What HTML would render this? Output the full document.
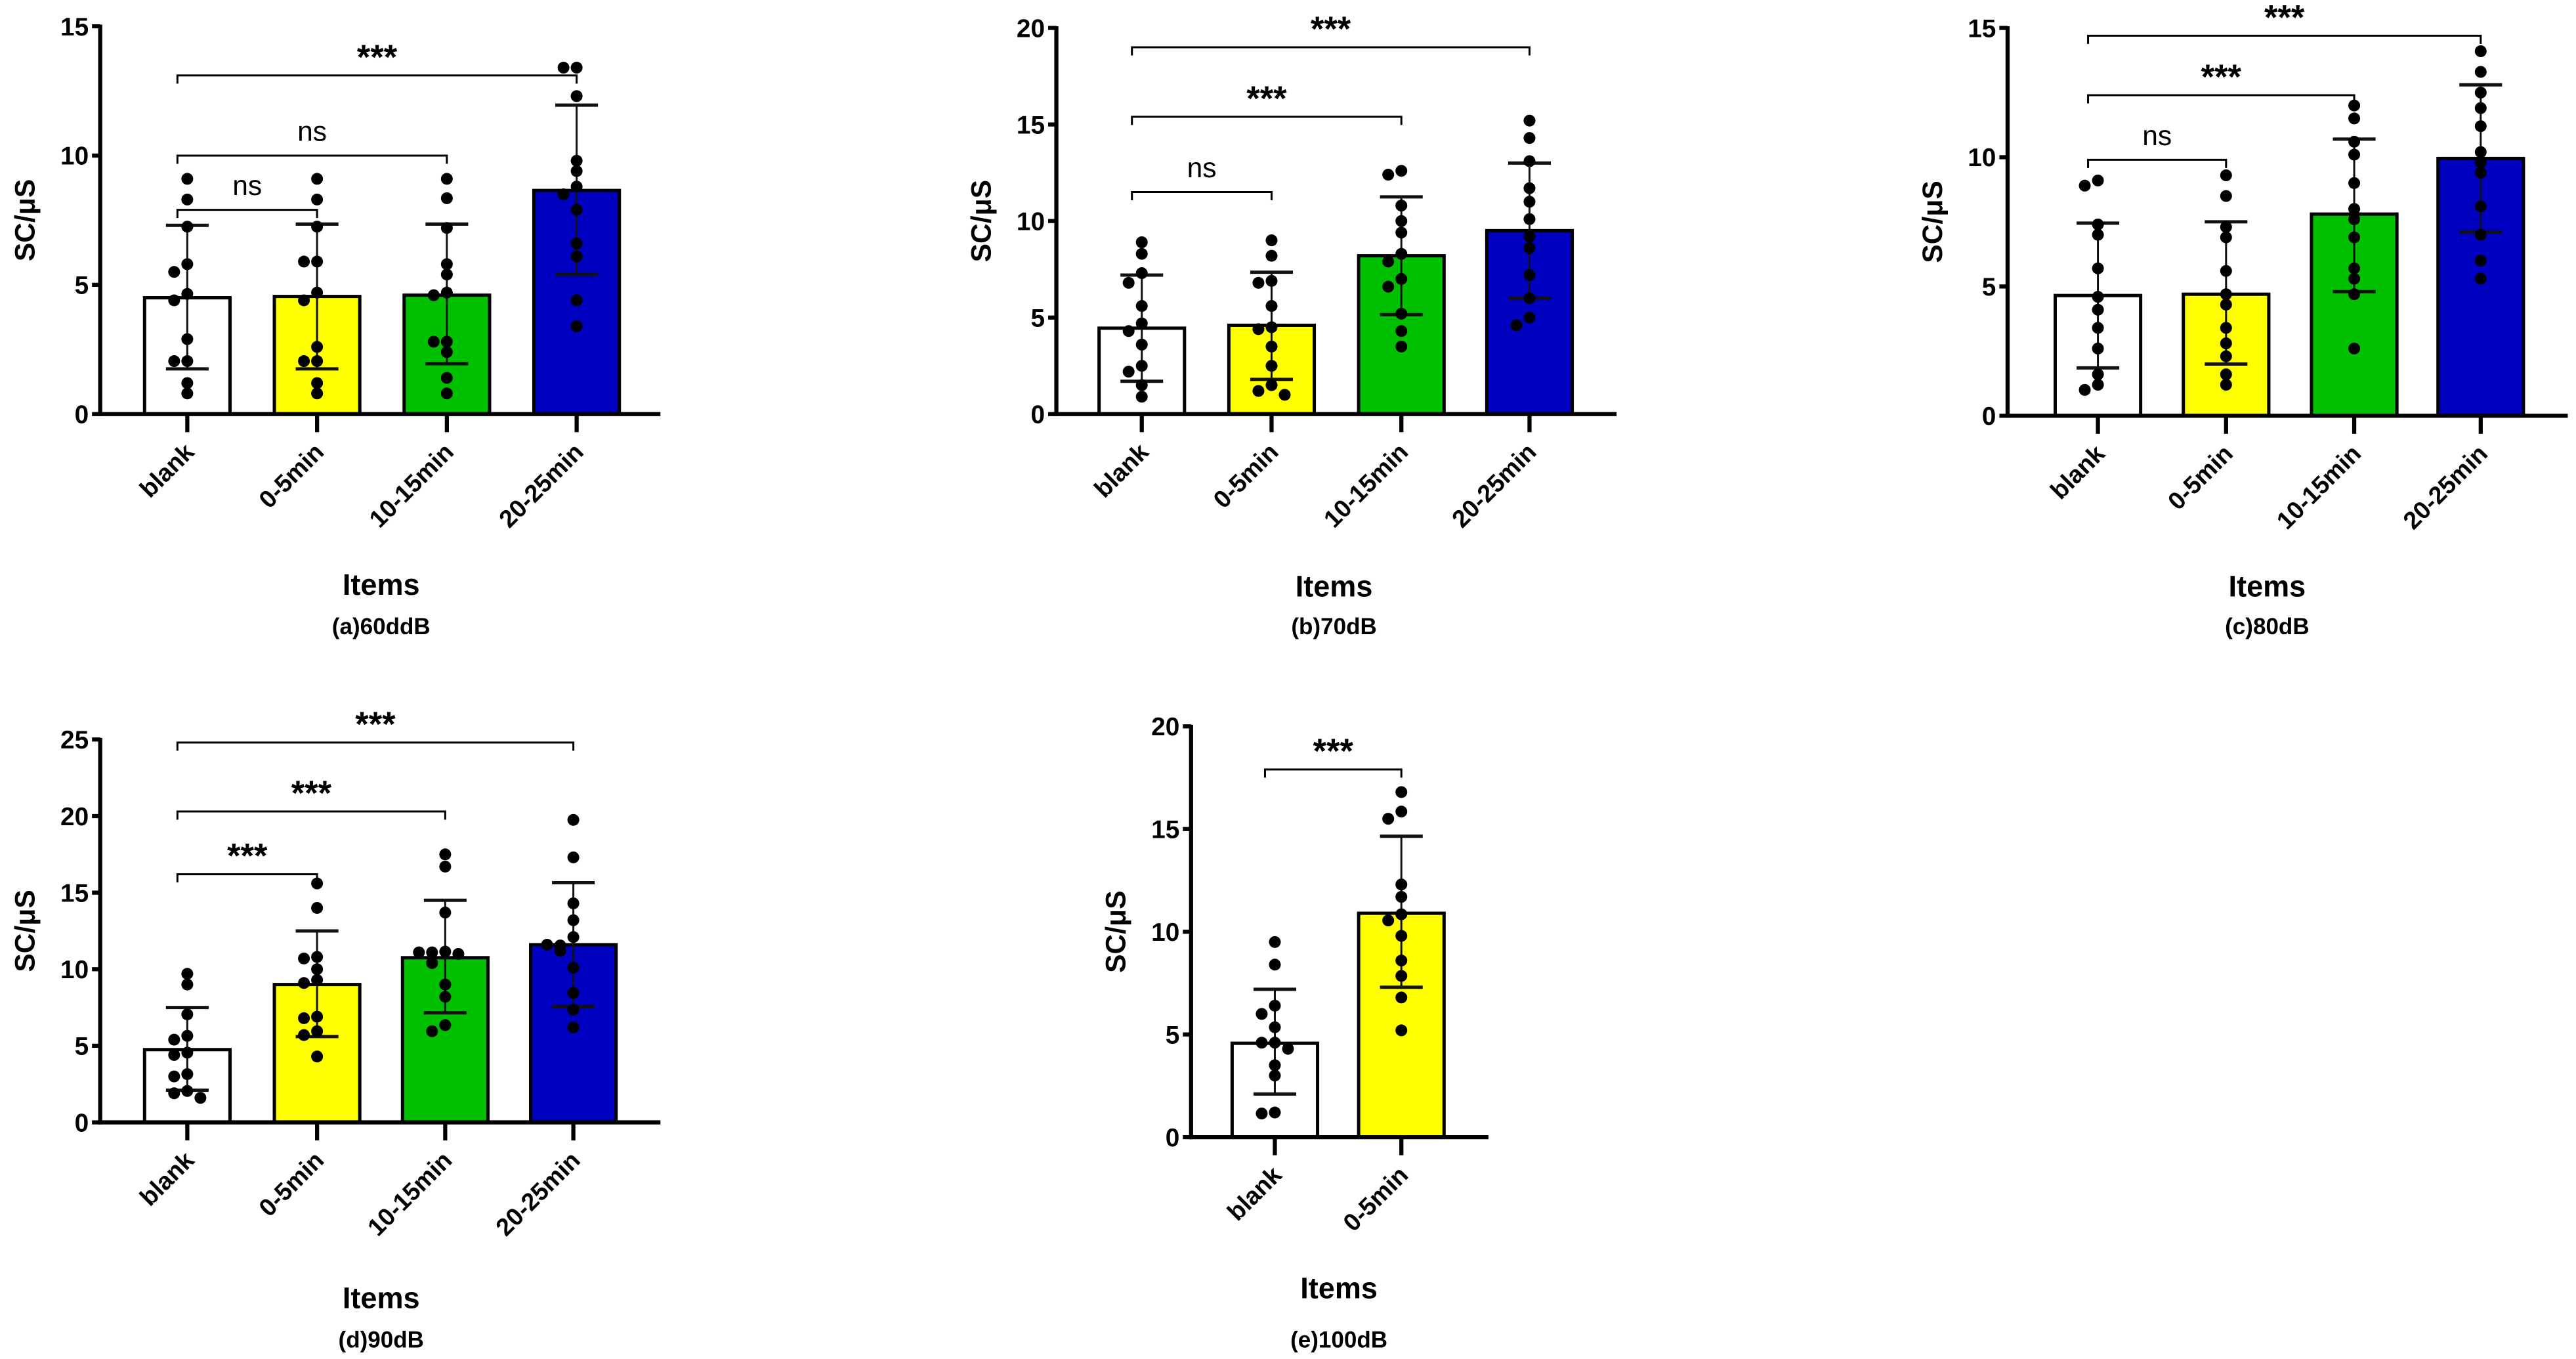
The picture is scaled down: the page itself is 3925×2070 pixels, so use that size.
<!DOCTYPE html>
<html><head><meta charset="utf-8"><style>
html,body{margin:0;padding:0;background:#fff}
svg{display:block}
text{font-family:"Liberation Sans",Arial,sans-serif}
</style></head><body>
<svg id="chart" width="3925" height="2070" viewBox="0 0 1568 827" preserveAspectRatio="none" xmlns="http://www.w3.org/2000/svg"></svg>
<script>
// ---- data ----
const catsA = ["blank","0-5min","10-15min","20-25min"];
const meansA = [4.5,4.55,4.6,8.65];
const hiA = [7.3,7.35,7.35,11.95];
const loA = [1.75,1.75,1.95,5.4];
const ptsA = [[9.1,8.3,7.25,5.8,5.5,4.65,4.4,2.9,2.05,2.05,1.2,0.8],[9.1,8.3,7.25,5.9,5.9,4.7,4.4,2.6,2.05,2.05,1.2,0.8],[9.1,8.35,7.2,5.8,5.4,4.7,4.6,2.8,2.8,2.4,1.4,0.8],[13.4,13.4,12.3,9.8,9.4,8.8,8.5,7.9,6.6,6.1,4.4,3.4]];
const brA = [[0,3,13.1,"***"],[0,2,10.0,"ns"],[0,1,7.9,"ns"]];
const ticksA = [0,5,10,15];

const catsB = ["blank","0-5min","10-15min","20-25min"];
const meansB = [4.45,4.6,8.2,9.5];
const hiB = [7.2,7.35,11.25,13.0];
const loB = [1.7,1.8,5.15,6.0];
const ptsB = [[8.9,8.3,7.3,6.8,5.6,4.7,4.3,3.6,2.5,2.2,1.5,0.9],[9,8.2,6.9,6.8,5.6,4.5,4.4,3.5,2.5,1.5,1.2,1.0],[12.6,12.4,10.8,10.0,9.4,8.3,7.9,7.0,6.6,5.2,4.3,3.5],[15.2,14.3,13.1,11.7,11.0,10.1,9.2,8.6,7.2,6.0,5.0,4.6]];
const brB = [[0,1,11.5,"ns"],[0,2,15.4,"***"],[0,3,19.0,"***"]];
const ticksB = [0,5,10,15,20];

const catsC = ["blank","0-5min","10-15min","20-25min"];
const meansC = [4.65,4.7,7.8,9.95];
const hiC = [7.45,7.5,10.7,12.8];
const loC = [1.85,2.0,4.8,7.1];
const ptsC = [[9.1,8.9,7.4,7.0,5.7,4.6,4.1,3.4,2.6,1.6,1.2,1.0],[9.3,8.5,7.3,6.9,5.6,4.7,4.3,3.4,2.8,2.3,1.6,1.2],[12.0,11.5,10.6,10.1,9.0,8.0,7.6,6.9,5.7,5.3,4.7,2.6],[14.1,13.3,12.5,11.9,11.2,10.2,9.8,9.4,8.1,7.0,6.0,5.3]];
const brC = [[0,1,9.9,"ns"],[0,2,12.4,"***"],[0,3,14.7,"***"]];
const ticksC = [0,5,10,15];

const catsD = ["blank","0-5min","10-15min","20-25min"];
const meansD = [4.75,9.0,10.75,11.6];
const hiD = [7.5,12.5,14.5,15.65];
const loD = [2.1,5.6,7.15,7.55];
const ptsD = [[9.7,9.0,7.05,5.65,5.4,4.55,4.4,3.15,3.0,2.05,1.9,1.6],[15.6,14.0,10.8,10.7,10.0,9.3,9.1,6.9,6.8,5.95,5.7,4.3],[17.5,16.7,13.7,11.15,11.1,11.0,10.4,9.0,8.2,6.35,5.95,11.1],[19.75,17.3,14.3,13.2,12.1,11.55,11.2,10.1,8.45,7.35,6.2,11.6]];
const brD = [[0,1,16.2,"***"],[0,2,20.3,"***"],[0,3,24.8,"***"]];
const ticksD = [0,5,10,15,20,25];

const catsE = ["blank","0-5min"];
const meansE = [4.57,10.9];
const hiE = [7.2,14.65];
const loE = [2.1,7.3];
const ptsE = [[9.5,8.4,6.4,6.0,5.35,4.6,4.6,4.3,3.5,3.0,1.2,1.15],[16.8,15.85,15.5,12.3,11.7,10.85,10.55,9.8,8.6,7.85,6.8,5.2]];
const brE = [[0,1,17.9,"***"]];
const ticksE = [0,5,10,15,20];

// ---- layout ----
const colors = ["#ffffff","#ffff00","#00c000","#0000c0"];
const panels = [
 {id:"a",cats:catsA,means:meansA,hi:hiA,lo:loA,pts:ptsA,br:brA,ticks:ticksA,ax:61,xEnd:402,y0:252,yT:16,centers:[114,193,272,351],itemsX:232,itemsY:362,cap:"(a)60ddB",capY:386},
 {id:"b",cats:catsB,means:meansB,hi:hiB,lo:loB,pts:ptsB,br:brB,ticks:ticksB,ax:643,xEnd:984,y0:252,yT:17,centers:[695,774,853,931],itemsX:812,itemsY:363,cap:"(b)70dB",capY:386},
 {id:"c",cats:catsC,means:meansC,hi:hiC,lo:loC,pts:ptsC,br:brC,ticks:ticksC,ax:1222,xEnd:1563,y0:253,yT:17,centers:[1277,1355,1433,1510],itemsX:1380,itemsY:363,cap:"(c)80dB",capY:386},
 {id:"d",cats:catsD,means:meansD,hi:hiD,lo:loD,pts:ptsD,br:brD,ticks:ticksD,ax:61,xEnd:402,y0:683,yT:450,centers:[114,193,271,349],itemsX:232,itemsY:796,cap:"(d)90dB",capY:820},
 {id:"e",cats:catsE,means:meansE,hi:hiE,lo:loE,pts:ptsE,br:brE,ticks:ticksE,ax:725,xEnd:906,y0:692,yT:442,centers:[776,853],itemsX:815,itemsY:790,cap:"(e)100dB",capY:820}
];
const NS="http://www.w3.org/2000/svg";
const svg=document.getElementById("chart");
function mk(tag,attrs,parent,txt){const e=document.createElementNS(NS,tag);for(const k in attrs)e.setAttribute(k,attrs[k]);if(txt!==undefined)e.textContent=txt;(parent||svg).appendChild(e);return e;}

panels.forEach(p=>{
 const g=mk("g",{});
 
 
 const max=p.ticks[p.ticks.length-1];
 const yS=v=>p.y0-(v/max)*(p.y0-p.yT);
 const bw=52;
 p.means.forEach((m,i)=>{
  const c=p.centers[i];
  const r=mk("rect",{x:c-bw/2,y:yS(m),width:bw,height:p.y0-yS(m),fill:colors[i],stroke:"#000","stroke-width":2},g);
  
  
 });
 p.means.forEach((m,i)=>{
  const c=p.centers[i];
  const eg=mk("g",{stroke:"#111","stroke-width":1.2},g);
  
  
  mk("line",{x1:c,x2:c,y1:yS(p.hi[i]),y2:yS(p.lo[i])},eg);
  mk("line",{x1:c-13,x2:c+13,y1:yS(p.hi[i]),y2:yS(p.hi[i]),"stroke-width":2},eg);
  mk("line",{x1:c-13,x2:c+13,y1:yS(p.lo[i]),y2:yS(p.lo[i]),"stroke-width":2},eg);
 });
 p.pts.forEach((arr,i)=>{
  const c=p.centers[i];
  const placed=[];
  arr.forEach(v=>{
   const y=yS(v);
   let n=placed.filter(q=>Math.abs(q-y)<6).length;
   const off=n===0?0:(n%2?-8:8)*Math.ceil(n/2);
   placed.push(y);
   const d=mk("circle",{cx:c+off,cy:y,r:3.6,fill:"#000"},g);
   
   
  });
 });
 const ya=mk("line",{x1:p.ax,x2:p.ax,y1:p.yT-1,y2:p.y0+1.2,stroke:"#000","stroke-width":2.5},g);
 
 
 const xa=mk("line",{x1:p.ax-1.2,x2:p.xEnd,y1:p.y0,y2:p.y0,stroke:"#000","stroke-width":2.5},g);
 
 
 p.ticks.forEach(t=>{
  mk("line",{x1:p.ax-5,x2:p.ax,y1:yS(t),y2:yS(t),stroke:"#000","stroke-width":2.5},g);
  const tl=mk("text",{x:p.ax-7,y:yS(t)+5.5,"text-anchor":"end","font-size":15.5,"font-weight":"bold"},g,String(t));
  
  
 });
 p.cats.forEach((cName,i)=>{
  const c=p.centers[i];
  mk("line",{x1:c,x2:c,y1:p.y0,y2:p.y0+11,stroke:"#000","stroke-width":2.5},g);
  const tl=mk("text",{x:c+5,y:p.y0+24,"text-anchor":"end","font-size":15,"font-weight":"bold",transform:`rotate(-45 ${c+5} ${p.y0+24})`},g,cName);
  
  
 });
 p.br.forEach(b=>{
  const x1=p.centers[b[0]]-6,x2=p.centers[b[1]];
  const y=yS(b[2]);
  const bg=mk("g",{},g);
  
  
  mk("path",{d:`M${x1} ${y+5}V${y}H${x2}V${y+5}`,fill:"none",stroke:"#000","stroke-width":1.2},bg);
  const st=b[3]==="***";
  mk("text",{x:(x1+x2)/2,y:st?y-4:y-9,"text-anchor":"middle","font-size":st?21:17,"font-weight":st?"bold":"normal"},bg,b[3]);
 });
 const yl=mk("text",{x:0,y:0,"text-anchor":"middle","font-size":17,"font-weight":"bold",transform:`translate(${p.ax-40},${(p.y0+p.yT)/2}) rotate(-90)`},g,"SC/μS");
 
 
 const xl=mk("text",{x:p.itemsX,y:p.itemsY,"text-anchor":"middle","font-size":18,"font-weight":"bold"},g,"Items");
 
 
 const cp=mk("text",{x:p.itemsX,y:p.capY,"text-anchor":"middle","font-size":14,"font-weight":"bold"},g,p.cap);
 
 
});
</script>
</body></html>
